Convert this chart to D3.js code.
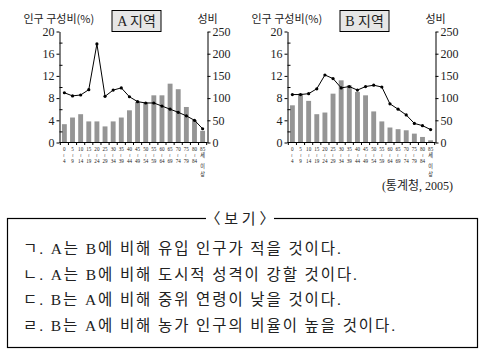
<!DOCTYPE html>
<html>
<head>
<meta charset="utf-8">
<script src="https://cdn.jsdelivr.net/npm/d3@7"></script>
<style>
  body { margin: 0; background: #fff; }
  svg text { fill: #222; }
</style>
</head>
<body>
<div id="chart"></div>
<script>
// age groups (lower / upper bound), last one is "85세 이상"
const ageFrom = ["0", "5", "10", "15", "20", "25", "30", "35", "40", "45", "50", "55", "60", "65", "70", "75", "80", "85"];
const ageTo = ["4", "9", "14", "19", "24", "29", "34", "39", "44", "49", "54", "59", "64", "69", "74", "79", "84", ""];

// 인구 구성비 (%)
const shareA = [3.3, 4.5, 5.1, 3.8, 3.8, 2.9, 3.8, 4.5, 5.8, 7.3, 7.2, 8.5, 8.5, 10.6, 9.6, 6.4, 4.0, 2.1];
const shareB = [6.7, 8.8, 7.5, 5.1, 5.4, 8.8, 11.2, 10.3, 9.1, 8.5, 5.6, 3.8, 2.7, 2.4, 2.2, 1.6, 1.0, 0.4];

// 성비
const ratioA = [112, 105, 107, 119, 222, 104, 118, 123, 103, 92, 89, 89, 82, 75, 68, 60, 50, 31];
const ratioB = [108, 108, 110, 121, 152, 144, 123, 126, 118, 126, 129, 125, 87, 75, 62, 43, 38, 29];

const shareTicks = [0, 4, 8, 12, 16, 20];
const shareMinor = [2, 6, 10, 14, 18];
const ratioTicks = [0, 50, 100, 150, 200, 250];

const statements = [
    "ㄱ. A는 B에 비해 유입 인구가 적을 것이다.",
    "ㄴ. A는 B에 비해 도시적 성격이 강할 것이다.",
    "ㄷ. B는 A에 비해 중위 연령이 낮을 것이다.",
    "ㄹ. B는 A에 비해 농가 인구의 비율이 높을 것이다."
];

const serif = "'Liberation Serif', 'DejaVu Serif', 'Noto Sans CJK KR', serif";
const sans = "'Noto Sans CJK KR', sans-serif";

const svg = d3.select("#chart").append("svg")
    .attr("width", 484)
    .attr("height", 354);

function drawChart(x0, title, share, ratio) {
    let g = svg.append("g");

    let x = d3.scaleBand()
        .domain(d3.range(ageFrom.length))
        .range([x0, x0 + 148])
        .paddingInner(0.4)
        .paddingOuter(0.3);

    let y = d3.scaleLinear().domain([0, 20]).range([142.5, 31.5]);
    let yR = d3.scaleLinear().domain([0, 250]).range([142.5, 31.5]);

    // bars
    g.selectAll(".bar")
        .data(share)
        .join("rect")
        .attr("x", (d, i) => x(i))
        .attr("y", d => y(d))
        .attr("width", x.bandwidth())
        .attr("height", d => y(0) - y(d))
        .attr("fill", "#959595");

    // left axis
    let left = g.append("g")
        .attr("transform", "translate(" + x0 + ",0)")
        .call(d3.axisLeft(y).tickValues(shareTicks).tickSize(3).tickSizeOuter(0));
    g.append("g")
        .attr("transform", "translate(" + x0 + ",0)")
        .call(d3.axisRight(y).tickValues(shareMinor).tickSize(3).tickFormat(""))
        .select(".domain").remove();

    // right axis
    let right = g.append("g")
        .attr("transform", "translate(" + (x0 + 148) + ",0)")
        .call(d3.axisRight(yR).tickValues(ratioTicks).tickSize(3).tickSizeOuter(0));

    [left, right].forEach(a => {
        a.selectAll("text").style("font-family", serif).style("font-size", "12px").attr("fill", "#222");
        a.selectAll("line, path").attr("stroke", "#000");
    });
    left.selectAll("text").attr("x", -5);
    right.selectAll("text").attr("x", 5);

    // baseline with small ticks between the bars
    g.append("line")
        .attr("x1", x0).attr("x2", x0 + 148)
        .attr("y1", y(0)).attr("y2", y(0))
        .attr("stroke", "#000");
    g.selectAll(".xt")
        .data(d3.range(ageFrom.length + 1))
        .join("line")
        .attr("x1", i => x0 + x.step() * 0.1 + i * x.step())
        .attr("x2", i => x0 + x.step() * 0.1 + i * x.step())
        .attr("y1", y(0)).attr("y2", y(0) + 2.5)
        .attr("stroke", "#000");

    // age labels, written vertically and squeezed to fit the narrow bands
    let lab = g.selectAll(".age")
        .data(ageFrom)
        .join("g")
        .attr("transform", (d, i) => "translate(" + (x(i) + x.bandwidth() / 2) + ",0) scale(0.85,1)")
        .style("font-family", serif)
        .style("font-size", "6px")
        .attr("text-anchor", "middle");
    lab.append("text").attr("y", 151).text(d => d);
    lab.append("text").attr("y", 157.5).style("font-family", sans)
        .style("font-size", (d, i) => ageTo[i] ? "5px" : "6px")
        .text((d, i) => ageTo[i] ? "≀" : "세");
    lab.append("text").attr("y", 163).text((d, i) => ageTo[i]);
    lab.filter((d, i) => !ageTo[i]).each(function () {
        d3.select(this).append("text").attr("y", 168.5).style("font-family", sans).text("이");
        d3.select(this).append("text").attr("y", 176.5).style("font-family", sans).text("상");
    });

    // sex ratio line
    let line = d3.line()
        .x((d, i) => x(i) + x.bandwidth() / 2)
        .y(d => yR(d));
    g.append("path")
        .datum(ratio)
        .attr("d", line)
        .attr("fill", "none")
        .attr("stroke", "#000")
        .attr("stroke-width", 1);
    g.selectAll(".pt")
        .data(ratio)
        .join("circle")
        .attr("cx", (d, i) => x(i) + x.bandwidth() / 2)
        .attr("cy", d => yR(d))
        .attr("r", 1.6)
        .attr("fill", "#000");

    // header texts
    g.append("text")
        .attr("x", x0 - 36).attr("y", 23)
        .style("font-family", sans).style("font-size", "11px")
        .text("인구 구성비(%)");
    g.append("text")
        .attr("x", x0 + 138).attr("y", 23)
        .style("font-family", sans).style("font-size", "11px")
        .text("성비");
    g.append("rect")
        .attr("x", x0 + 52.5).attr("y", 10.5)
        .attr("width", 49).attr("height", 21)
        .attr("fill", "#e6e6e6").attr("stroke", "#000");
    g.append("text")
        .attr("x", x0 + 77).attr("y", 26)
        .attr("text-anchor", "middle")
        .style("font-family", serif).style("font-size", "14px")
        .text(title);
}

drawChart(59.5, "A 지역", shareA, ratioA);
drawChart(287.5, "B 지역", shareB, ratioB);

svg.append("text")
    .attr("x", 453).attr("y", 190)
    .attr("text-anchor", "end")
    .style("font-family", serif).style("font-size", "12px")
    .text("(통계청, 2005)");

// <보기> box
svg.append("rect")
    .attr("x", 7.5).attr("y", 218.5)
    .attr("width", 470).attr("height", 129)
    .attr("fill", "none").attr("stroke", "#000").attr("stroke-width", 1.2);
svg.append("rect")
    .attr("x", 206).attr("y", 210)
    .attr("width", 68).attr("height", 16)
    .attr("fill", "#fff");
svg.append("text")
    .attr("x", 240).attr("y", 224)
    .attr("text-anchor", "middle")
    .style("font-family", serif).style("font-size", "15px")
    .text("〈 보 기 〉");

svg.selectAll(".stmt")
    .data(statements)
    .join("text")
    .attr("x", 23)
    .attr("y", (d, i) => 254 + i * 25.5)
    .style("font-family", serif)
    .style("font-size", "15.5px")
    .style("letter-spacing", "1.9px")
    .text(d => d);
</script>
</body>
</html>
